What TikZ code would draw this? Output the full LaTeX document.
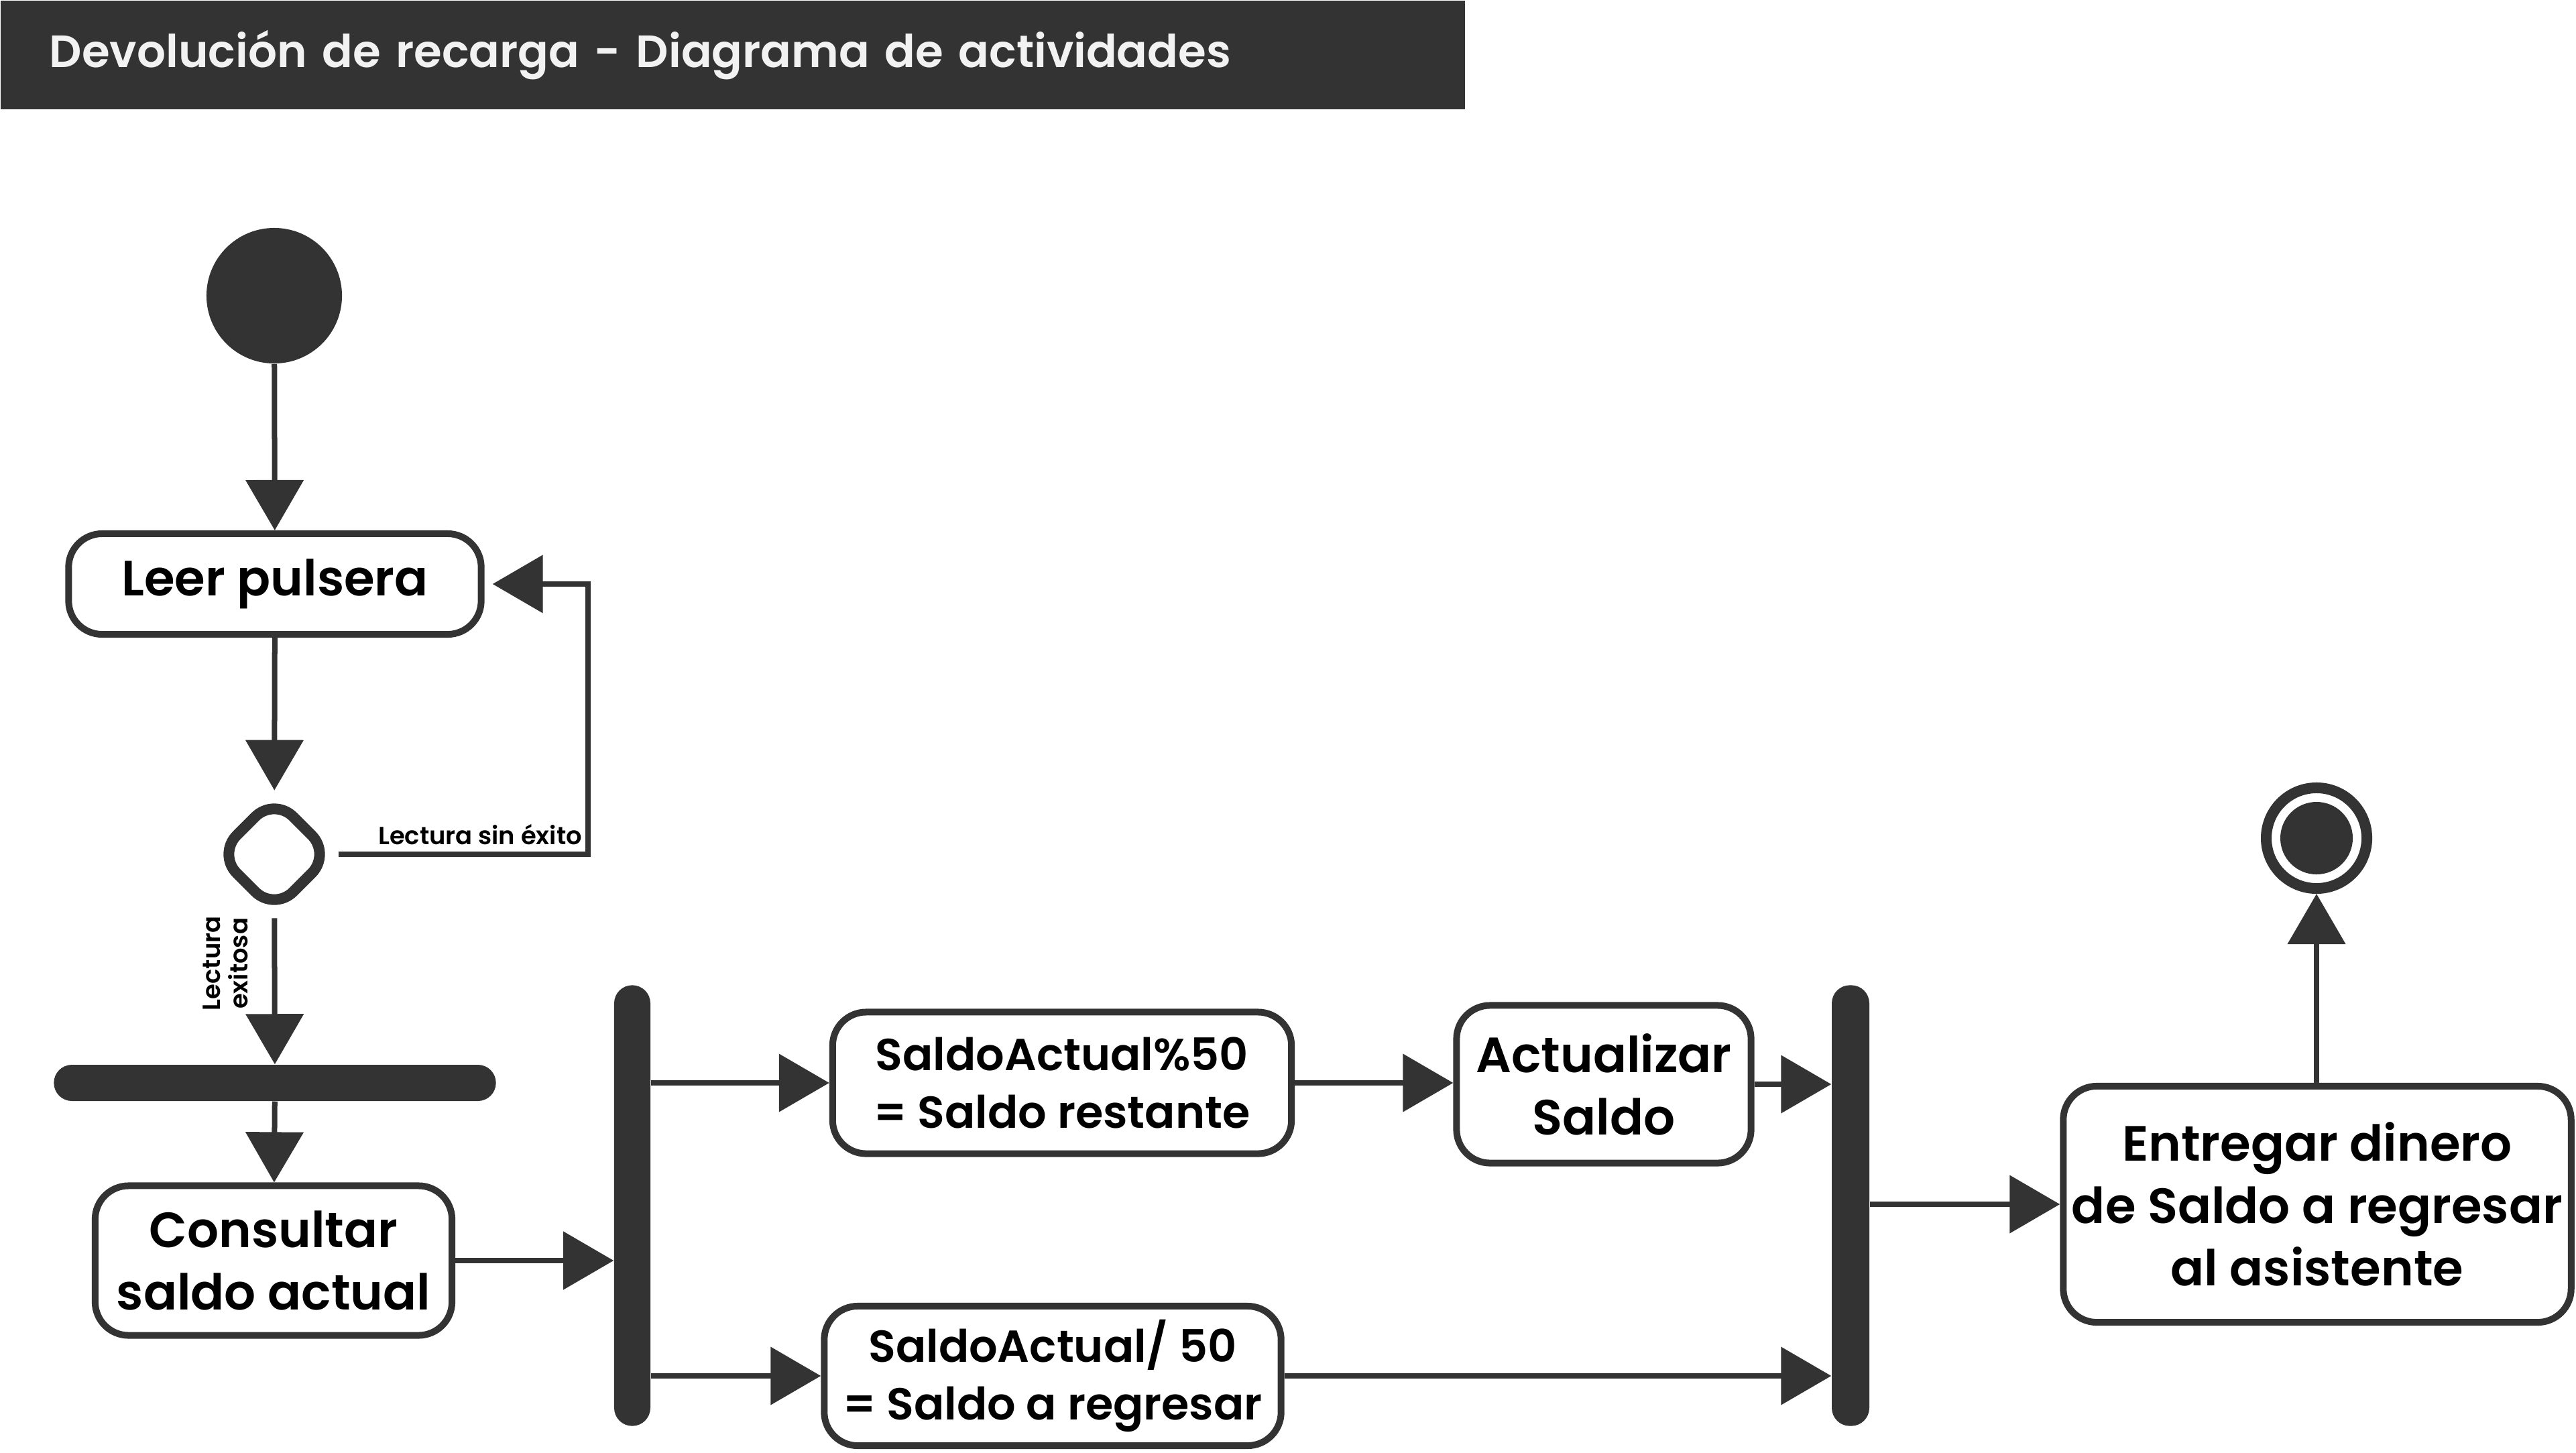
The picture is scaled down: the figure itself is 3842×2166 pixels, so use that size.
\documentclass[tikz,border=0pt]{standalone}
\usepackage{fontspec}
\setmainfont{Poppins}[BoldFont={Poppins SemiBold}]
\usepackage{tikz}
\usetikzlibrary{arrows.meta,shapes.geometric}
\usepackage{xcolor}
\definecolor{umlgray}{RGB}{51,51,51}
\definecolor{titletext}{RGB}{242,242,242}

\begin{document}
\begin{tikzpicture}[x=0.01cm,y=-0.01cm,
    activity/.style={draw=umlgray,line width=0.1cm,rectangle,rounded corners=0.5cm,fill=white,align=center,inner sep=0pt,font=\fontsize{21}{26.5}\selectfont\bfseries},
    calcbox/.style={activity,font=\fontsize{19}{24.5}\selectfont\bfseries},
    syncbar/.style={fill=umlgray,rectangle,rounded corners=0.27cm,inner sep=0pt},
    flow/.style={draw=umlgray,line width=0.08cm,-{Triangle[length=0.75cm,width=0.85cm]}},
    guard/.style={font=\fontsize{10.5}{11.5}\selectfont\bfseries,inner sep=0pt,align=center}]
				\useasboundingbox (0,0) rectangle (3842,2166);
				% title bar
				\node[fill=umlgray,anchor=north west,minimum width=21.83cm,minimum height=1.62cm,inner xsep=0.73cm,text width=20.37cm,align=left,text=titletext,font=\fontsize{19.2}{22}\selectfont\bfseries] (title) at (0,0) {Devolución de recarga - Diagrama de actividades};
				% nodes
				\node[circle,fill=umlgray,minimum size=2.02cm,inner sep=0pt] (start) at (409,441) {};
				\node[activity,minimum width=6.15cm,minimum height=1.5cm] (leer) at (410,871) {Leer pulsera};
				\node[diamond,draw=umlgray,line width=0.16cm,rounded corners=0.4cm,minimum size=1.75cm,fill=white,inner sep=0pt] (decision) at (409,1274) {};
				\node[syncbar,minimum width=6.59cm,minimum height=0.54cm] (sync) at (410,1615) {};
				\node[activity,minimum width=5.32cm,minimum height=2.23cm] (consultar) at (408,1880) {Consultar\\saldo actual};
				\node[syncbar,minimum width=0.54cm,minimum height=6.57cm] (fork) at (943,1798) {};
				\node[calcbox,minimum width=6.84cm,minimum height=2.11cm] (restante) at (1584,1615) {SaldoActual\%50\\= Saldo restante};
				\node[calcbox,minimum width=6.81cm,minimum height=2.08cm] (regresar) at (1570,2052) {SaldoActual/ 50\\= Saldo a regresar};
				\node[activity,minimum width=4.39cm,minimum height=2.35cm] (actualizar) at (2392,1617) {Actualizar\\Saldo};
				\node[syncbar,minimum width=0.56cm,minimum height=6.57cm] (join) at (2760,1798) {};
				\node[activity,minimum width=7.57cm,minimum height=3.52cm] (entregar) at (3456,1796) {Entregar dinero\\de Saldo a regresar\\al asistente};
				\node[circle,draw=umlgray,line width=0.16cm,minimum size=1.5cm,fill=white,inner sep=0pt,
				      path picture={\fill[umlgray] (path picture bounding box.center) circle (0.54cm);}] (fin) at (3455,1250) {};
				\coordinate (retorno) at (877,1274);
				% connectors
				\draw[flow] (start) -- (leer);
				\draw[flow] (leer) -- (decision);
				\draw[flow] (decision.east) -- node[guard,pos=1,anchor=south east,yshift=0.1cm,xshift=-0.05cm] {Lectura sin éxito} (retorno) |- ([xshift=0.12cm]leer.east);
				\draw[flow] (decision) -- node[guard,pos=0.31,rotate=90,anchor=south,yshift=0.36cm] {Lectura\\exitosa} (sync);
				\draw[flow] (sync) -- (consultar);
				\draw[flow] (consultar.east) -- (consultar.east -| fork.west);
				\draw[flow] (restante.west -| fork.east) -- (restante.west);
				\draw[flow] (regresar.west -| fork.east) -- (regresar.west);
				\draw[flow] (restante.east) -- (restante.east -| actualizar.west);
				\draw[flow] (actualizar.east) -- (actualizar.east -| join.west);
				\draw[flow] (regresar.east) -- (regresar.east -| join.west);
				\draw[flow] (entregar.west -| join.east) -- (entregar.west);
				\draw[flow] (fin |- entregar.north) -- (fin);
			\end{tikzpicture}
\end{document}
